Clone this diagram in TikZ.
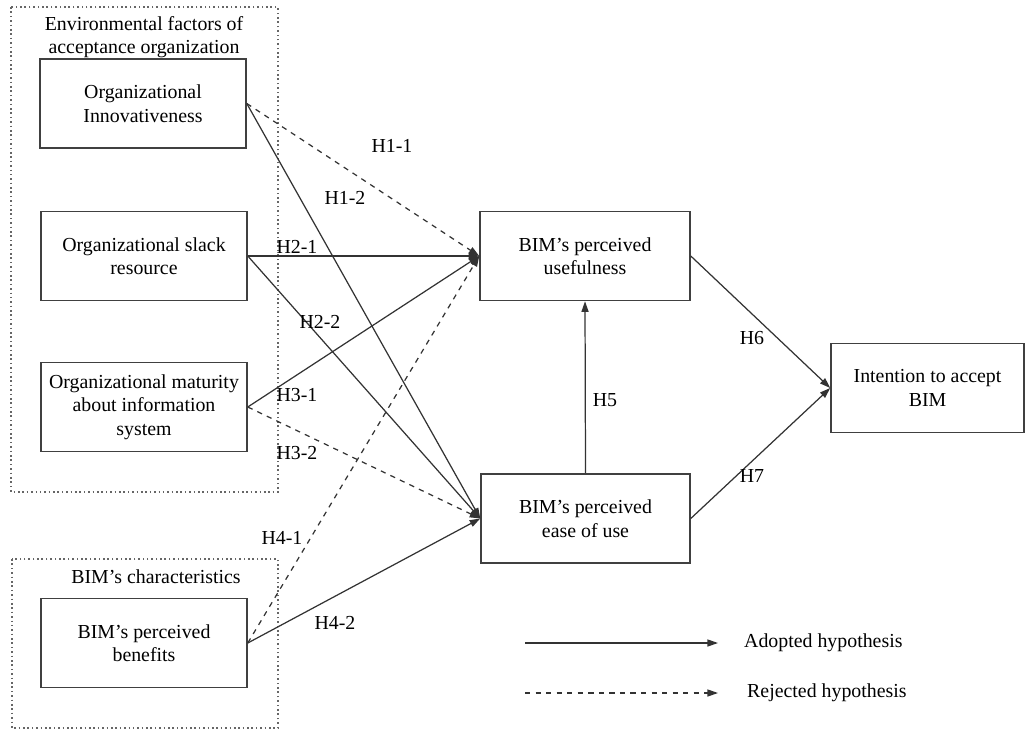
\documentclass[tikz,border=0pt]{standalone}
\usepackage{fontspec}
\setmainfont{Liberation Serif}
\usetikzlibrary{arrows.meta}
\begin{document}
\begin{tikzpicture}[x=0.02cm,y=-0.02cm]
    \tikzstyle{every node}=[font=\fontsize{11.3}{13.4}\selectfont,align=center]
    \tikzstyle{box}=[draw=black!75,line width=0.9pt,minimum height=1.78cm,inner sep=0pt]
    \tikzstyle{frame}=[draw=black!60,line width=0.9pt,dash pattern=on 0.9pt off 1.6pt]
    \tikzstyle{hyp}=[draw=black!80,line width=0.7pt,-{Triangle[length=6pt,width=4pt]}]
    \tikzstyle{rej}=[hyp,dashed]
    \useasboundingbox (0,0) rectangle (1026,729);
    % dotted groups
    \draw[frame] (11,7) rectangle (278,492);
    \draw[frame] (12,559) rectangle (278,728);
    \draw node(env)at(144,37){Environmental factors of\\acceptance organization}
          node(bimc)at(156,577){BIM's characteristics};
    % constructs
    \draw node[box,minimum width=4.12cm](innov)at(143,103.5){Organizational\\Innovativeness}
          node[box,minimum width=4.12cm](slack)at(144,256){Organizational slack\\resource}
          node[box,minimum width=4.12cm](matur)at(144,407){Organizational maturity\\about information\\system}
          node[box,minimum width=4.12cm](benef)at(144,643){BIM's perceived\\benefits}
          node[box,minimum width=4.2cm](useful)at(585,256){BIM's perceived\\usefulness}
          node[box,minimum width=4.18cm](ease)at(585.5,518.5){BIM's perceived\\ease of use}
          node[box,minimum width=3.86cm](intent)at(927.5,388){Intention to accept\\BIM};
    % hypotheses
    \draw[rej](innov.east)--(useful.west);
    \draw[hyp](innov.east)--(ease.west);
    \draw[hyp](slack.east)--(useful.west);
    \draw[hyp](slack.east)--(ease.west);
    \draw[hyp](matur.east)--(useful.west);
    \draw[rej](matur.east)--(ease.west);
    \draw[rej](benef.east)--(useful.west);
    \draw[hyp](benef.east)--(ease.west);
    \draw[hyp](ease.north)--(useful.south);
    \draw[hyp](useful.east)--(intent.west);
    \draw[hyp](ease.east)--(intent.west);
    \draw node(h11)at(392,146){H1-1} node(h12)at(345,198){H1-2}
          node(h21)at(297,247){H2-1} node(h22)at(320,322){H2-2}
          node(h31)at(297,395){H3-1} node(h32)at(297,453){H3-2}
          node(h41)at(282,538){H4-1} node(h42)at(335,623){H4-2}
          node(h5)at(605,400){H5} node(h6)at(752,338){H6} node(h7)at(752,476){H7};
    % legend
    \coordinate(a1)at(525,643); \coordinate(a2)at(718,643);
    \coordinate(r1)at(525,693); \coordinate(r2)at(718,693);
    \draw[hyp](a1)--(a2);
    \draw[rej](r1)--(r2);
    \draw node[anchor=west](adopt)at(738,643){Adopted hypothesis}
          node[anchor=west](reject)at(741,693){Rejected hypothesis};
\end{tikzpicture}
\end{document}
